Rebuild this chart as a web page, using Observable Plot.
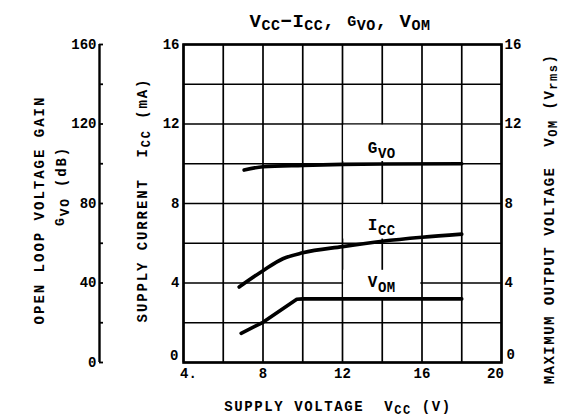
<!DOCTYPE html>
<html><head><meta charset="utf-8">
<script src="https://cdn.jsdelivr.net/npm/d3@7"></script>
<script src="https://cdn.jsdelivr.net/npm/@observablehq/plot@0.6"></script>
<style>body{margin:0;background:#fff} svg{display:block}</style>
</head><body><div id="chart"></div>
<script>
// ---- data ----
const xDomain = [4, 20];
const yDomain = [0, 16];
const xGrid = [4, 6, 8, 10, 12, 14, 16, 18, 20];
const yGrid = [0, 2, 4, 6, 8, 10, 12, 14, 16];
const xTicks = [4, 8, 12, 16, 20];
const xTickLabels = ["4.", "8", "12", "16", "20"];
const yTicks = [0, 4, 8, 12, 16];
const gvoTicks = [0, 20, 40, 60, 80, 100, 120, 140, 160];
const gvoLabels = [0, 40, 80, 120, 160];

const iccVcc = [6.8, 8, 9, 10, 12, 14, 16, 18];
const iccMa = [3.8, 4.62, 5.22, 5.52, 5.83, 6.1, 6.3, 6.46];
const gvoVcc = [7.05, 8, 10, 12, 14, 18];
const gvoDb = [96.8, 98.5, 99.2, 99.7, 99.9, 100];
const vomVcc = [6.9, 8, 9.7, 10, 18];
const vomVrms = [1.47, 2.02, 3.18, 3.2, 3.2];

// label backgrounds (data coords) and curve labels
const boxX1 = [12, 12, 12];
const boxX2 = [16, 16, 16];
const boxY1 = [10.05, 6.15, 3.2];
const boxY2 = [12, 8, 4.7];
const curveLabelMain = ["G", "I", "V"];
const curveLabelSub = ["VO", "CC", "OM"];
const curveLabelX = [14, 14, 14];
const curveLabelY = [10.5, 6.64, 3.77];

// ---- build ----
const gvoK = gvoLabels[gvoLabels.length - 1] / yDomain[1];
const icc = iccVcc.map((x, i) => ({x, y: iccMa[i]}));
const gvo = gvoVcc.map((x, i) => ({x, y: gvoDb[i] / gvoK}));
const vom = vomVcc.map((x, i) => ({x, y: vomVrms[i]}));
const boxes = boxX1.map((x1, i) => ({x1, x2: boxX2[i], y1: boxY1[i], y2: boxY2[i]}));

const FONT = "Liberation Mono, DejaVu Sans Mono, monospace";
const TICK = 14;
const fmtX = d => xTickLabels[xTicks.indexOf(d)];
const xFirst = xTicks.slice(0, 1), xMid = xTicks.slice(1, -1), xLast = xTicks.slice(-1);
const yZero = yTicks.slice(0, 1), yRest = yTicks.slice(1);

const chart = Plot.plot({
  width: 561, height: 417,
  marginLeft: 183, marginRight: 60, marginTop: 44, marginBottom: 55,
  x: {domain: xDomain},
  y: {domain: yDomain},
  style: {fontFamily: FONT, fontSize: "14px", fontWeight: "bold", background: "#fff", color: "#000"},
  marks: [
    Plot.ruleX(xGrid, {stroke: "#000", strokeWidth: 1.7}),
    Plot.ruleY(yGrid, {stroke: "#000", strokeWidth: 1.7}),
    Plot.rect(boxes, {x1: "x1", x2: "x2", y1: "y1", y2: "y2", fill: "#fff", inset: 1.2}),
    Plot.frame({stroke: "#000", strokeWidth: 2.6}),
    Plot.line(gvo, {x: "x", y: "y", stroke: "#000", strokeWidth: 3.6, curve: "monotone-x"}),
    Plot.line(icc, {x: "x", y: "y", stroke: "#000", strokeWidth: 3.6, curve: "monotone-x"}),
    Plot.line(vom, {x: "x", y: "y", stroke: "#000", strokeWidth: 3.6, curve: "linear"}),
    Plot.axisX({ticks: xMid, tickSize: 0, tickPadding: 6, tickFormat: fmtX, fontSize: TICK}),
    Plot.axisX({ticks: xFirst, tickSize: 0, tickPadding: 6, tickFormat: fmtX, fontSize: TICK, dx: 5}),
    Plot.axisX({ticks: xLast, tickSize: 0, tickPadding: 6, tickFormat: fmtX, fontSize: TICK, dx: -6}),
    Plot.axisY({anchor: "left", ticks: yRest, tickSize: 0, tickPadding: 4, fontSize: TICK}),
    Plot.axisY({anchor: "left", ticks: yZero, tickSize: 0, tickPadding: 5, fontSize: TICK, dy: -7}),
    Plot.axisY({anchor: "right", ticks: yRest, tickSize: 0, tickPadding: 3, fontSize: TICK}),
    Plot.axisY({anchor: "right", ticks: yZero, tickSize: 0, tickPadding: 5, fontSize: TICK, dy: -8}),
    // GVO axis (0-160 dB) placed left of the plot
    Plot.ruleX([xDomain[0]], {y1: yDomain[0], y2: yDomain[1], dx: -84, stroke: "#000", strokeWidth: 2.4}),
    Plot.axisY({anchor: "left", ticks: gvoTicks.map(d => d / gvoK), tickSize: 4, tickFormat: () => "", dx: -80, strokeWidth: 1.8}),
    Plot.axisY({anchor: "left", ticks: gvoLabels.map(d => d / gvoK), tickSize: 0, tickPadding: 0, dx: -87, tickFormat: d => String(Math.round(d * gvoK)), fontSize: TICK})
  ]
});
document.getElementById("chart").append(chart);

// ---- rich text (subscripts) ----
const svg = d3.select(chart);
const sx = chart.scale("x"), sy = chart.scale("y");
function rich(parts, {x, y, rotate = 0, anchor = "middle", spacing = 0}) {
  const t = svg.append("text")
    .attr("transform", `translate(${x},${y}) rotate(${rotate})`)
    .attr("text-anchor", anchor)
    .attr("font-family", FONT).attr("font-weight", "bold")
    .attr("letter-spacing", spacing).attr("fill", "#000");
  let cur = 0;
  for (const [txt, size, shift] of parts) {
    t.append("tspan").attr("font-size", size).attr("dy", shift - cur).attr("xml:space", "preserve").text(txt);
    cur = shift;
  }
  return t;
}
// title
rich([["V", 19, 0], ["CC", 15, 3], ["\u2212I", 19, 0], ["CC", 15, 3], [", ", 19, 0], ["G", 15, -1], ["VO", 15, 3], [", V", 19, 0], ["OM", 15, 3]],
  {x: 340, y: 27, spacing: 0.5});
// x title
rich([["SUPPLY VOLTAGE  V", 14, 0], ["CC", 12, 3], [" (V)", 14, 0]], {x: 338, y: 411, spacing: 1.6});
// left titles
rich([["OPEN LOOP VOLTAGE GAIN", 14, 0]], {x: 44, y: 210, rotate: -90, spacing: 2});
rich([["G", 13, -2], ["VO", 13, 3], [" (dB)", 14, 0]], {x: 66, y: 186, rotate: -90, spacing: 1.8});
rich([["SUPPLY CURRENT  I", 14, 0], ["CC", 12, 3], [" (mA)", 14, 0]], {x: 147, y: 200, rotate: -90, spacing: 1.9});
// right title
rich([["MAXIMUM OUTPUT VOLTAGE  V", 14, 0], ["OM", 12, 3], [" (V", 14, 0], ["rms", 12, 3], [")", 14, 0]], {x: 554, y: 219, rotate: -90, spacing: 1.5});
// curve labels
curveLabelMain.forEach((m, i) => {
  rich([[m, 16, 0], [curveLabelSub[i], 14, 5]], {x: sx.apply(curveLabelX[i]), y: sy.apply(curveLabelY[i]), spacing: 0.5});
});
</script></body></html>
